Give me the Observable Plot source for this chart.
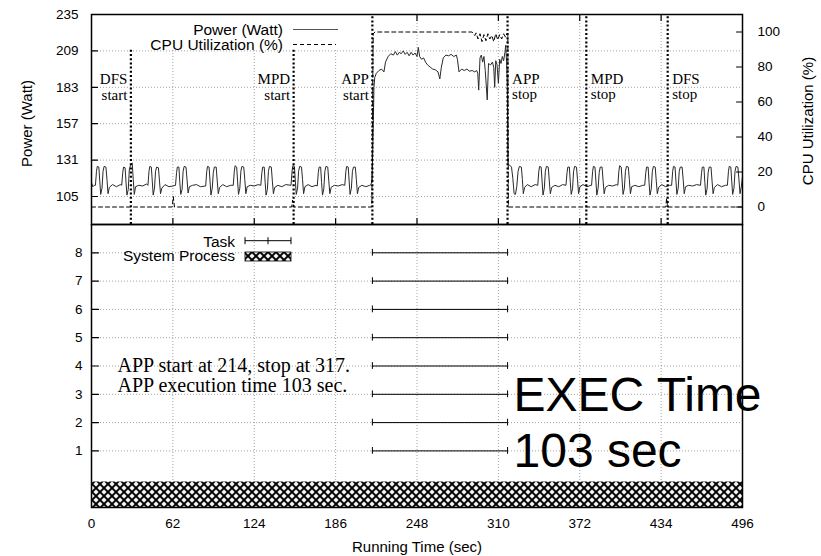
<!DOCTYPE html>
<html><head><meta charset="utf-8">
<script src="https://cdn.jsdelivr.net/npm/d3@7"></script>
<script src="https://cdn.jsdelivr.net/npm/@observablehq/plot@0.6"></script>
<style>
body{margin:0;background:#fff;}
#chart{position:relative;width:821px;height:556px;overflow:hidden;background:#fff;}
#chart svg{position:absolute;left:0;overflow:visible;}
</style></head><body><div id="chart"></div><script>
// ---------- data ----------
const xTicks = [0, 62, 124, 186, 248, 310, 372, 434, 496];
const powerTicks = [105, 131, 157, 183, 209, 235];
const cpuTicks = [0, 20, 40, 60, 80, 100];
const taskTicks = [1, 2, 3, 4, 5, 6, 7, 8];

// [time (s), power (W)]
const powerTrace = [
[0,115],[1,112],[2,113],
[3,113],[3.8,123],[4.4,126.5],[5.6,126],[6.3,116],[7,106.5],[8,111],[8.8,123],[9.6,126.5],[11,126],[11.8,117],[12.6,107],[13.6,111.5],[16,113.5],[19,112],[22,113.5],
[23,113],[23.8,122],[24.4,126],[25.6,125.5],[26.3,115],[27,106],[28,110],[28.8,124],[29.6,127],[31,129],[31.8,117],[32.6,106.5],[33.6,112],[36,113],[39,112.5],[42,114],
[43,113],[43.8,123],[44.4,126.5],[45.6,126],[46.3,116],[47,106],[48,111],[48.8,123],[49.6,126],[51,125.5],[51.8,116],[52.6,107],[53.6,111],[56,113.5],[59,112],[62,112.5],
[64,113],[64.8,122],[65.4,126],[66.6,126],[67.3,115],[68,106.5],[69,110],[69.8,123],[70.6,126.5],[72,126],[72.8,117],[73.6,107.5],[74.6,112],[77,113],[80,113.5],[83,112],
[87,112.5],[87.8,123],[88.4,126.5],[89.6,126],[90.3,116],[91,106],[92,111],[92.8,122],[93.6,126],[95,126],[95.8,116],[96.6,107],[97.6,111.5],[100,113.5],[103,112],[106,113],
[108,113],[108.8,123],[109.4,127],[110.6,126],[111.3,116],[112,106.5],[113,111],[113.8,123],[114.6,126.5],[116,126],[116.8,117],[117.6,107],[118.6,112],[121,113],[124,112.5],[127,113.5],
[129,113],[129.8,122],[130.4,126],[131.6,126],[132.3,115],[133,106],[134,110],[134.8,123],[135.6,126.5],[137,126],[137.8,116],[138.6,107],[139.6,111.5],[142,113],[145,112],[148,113.5],
[152,113],[152.8,123],[153.4,127],[154.6,126.5],[155.3,116],[156,106.5],[157,111],[157.8,123],[158.6,126.5],[160,126],[160.8,117],[161.6,107],[162.6,112],[165,113.5],[168,112],[171,113],
[172,112.5],[172.8,122],[173.4,126],[174.6,126],[175.3,115],[176,106],[177,110.5],[177.8,123],[178.6,126.5],[180,126],[180.8,116],[181.6,107],[182.6,111.5],[185,113],[188,112.5],[191,113.5],
[193,113],[193.8,123],[194.4,126.5],[195.6,126],[196.3,116],[197,106.5],[198,111],[198.8,123],[199.6,126],[201,126],[201.8,117],[202.6,107],[203.6,111.5],[206,113],[209,112],[212,113],
[213,113.5],[213.8,118],[214.5,147],[215.2,183],[215.8,190],[217,193],[219,195],[221,196],[222.8,194],[224,201],[226,205],[228,207],[230,206],[231.5,208.5],[233,206],[234.5,208],[236,207],[237.5,209],[239,206.5],[240.5,208],[242,205.5],[243.5,208],[245,206],[246.5,207.5],[248,205],[249,211.5],[250,205],[251.5,203],[253,204],[254.5,201],[256,199],[258,197.5],[260,196],[262,195.5],[264,194],[265.4,189],[266.5,197],[268,204],[270,206],[272,205.5],[274,206.5],[276,205],[278,206],[278.8,203],[280,194],[282,196],[284,195],[286,196],[288,194.5],[290,195],[292,194],[293.5,195],[294.3,193],[295,181],[296,204],[297,206],[298,201],[299,205],[300,195],[301.5,174],[302.5,200],[304,199],[305.5,201],[306.5,197],[307.2,183],[308,202],[309,199],[310,186],[311,203],[312,200],[313,205],[314,202],[315,208],[315.6,213],[316.3,200],[316.8,183],
[317.3,128],[318.5,127.5],[320,126],[321,118],[322,107],[323,106.5],[324,112],[325,123],[326,126.5],[327.5,126],[328.3,117],[329,107],[330,111.5],[332,113.5],[335,112],[338,113.5],
[340,113],[340.8,123],[341.4,126.5],[342.6,126],[343.3,116],[344,106],[345,111],[345.8,123],[346.6,126.5],[348,126],[348.8,116],[349.6,107],[350.6,111.5],[353,113],[356,112],[359,113.5],
[361.5,113],[362.3,122],[362.9,126],[364.1,126],[364.8,115],[365.5,106.5],[366.5,110.5],[367.3,123],[368.1,126.5],[369.5,126],[370.3,117],[371.1,107],[372.1,112],[374.5,113.5],[377.5,112],[380.5,113],
[381,113],[381.8,123],[382.4,126.5],[383.6,126],[384.3,116],[385,106],[386,111],[386.8,122],[387.6,126],[389,126],[389.8,116],[390.6,107],[391.6,111.5],[394,113],[397,112.5],[400,113.5],
[401,113],[401.8,123],[402.4,127],[403.6,126],[404.3,116],[405,106.5],[406,111],[406.8,123],[407.6,126.5],[409,126],[409.8,117],[410.6,107],[411.6,112],[414,113],[417,112],[420,113],
[421.5,113],[422.3,122],[422.9,126],[424.1,126],[424.8,115],[425.5,106],[426.5,110.5],[427.3,123],[428.1,126.5],[429.5,126],[430.3,116],[431.1,107],[432.1,111.5],[434.5,113.5],[437.5,112],[440.5,113],
[442,113],[442.8,123],[443.4,126.5],[444.6,126],[445.3,116],[446,106.5],[447,111],[447.8,123],[448.6,126],[450,126],[450.8,117],[451.6,107],[452.6,112],[455,113],[458,112.5],[461,113.5],
[464,113],[464.8,122],[465.4,126],[466.6,126],[467.3,115],[468,106],[469,110.5],[469.8,122],[470.6,126],[472,126],[472.8,116],[473.6,107],[474.6,111.5],[477,113.5],[480,112],[483,113],
[484.5,113],[485.3,123],[485.9,126.5],[487.1,126],[487.8,116],[488.5,106.5],[489.5,111],[490.3,123],[491.1,126.5],[492.5,126],[493.3,117],[494.1,107],[495.1,112],[496,119]
];

// [time (s), CPU utilization (%)]
const cpuTrace = [
[0,0],[61.5,0],[62.3,6],[63.2,0],[152.5,0],[153.2,4],[154,0],[213.6,0],[214.6,99],[216,100],[240,100],[260,100],[290,100],
[292,98],[293,99.5],[294.5,96],[296,99],[297.5,94.5],[299,98.5],[300.5,95],[302,99],[303.5,96],[305,98],[306.5,94.5],[308,99],
[309.5,95.5],[311,98.5],[312.5,96],[314,99],[315.5,97],[316.5,99],[317.2,98],[317.6,0],[437.5,0],[438.2,5],[439,0],[496,0]
];

const events = [
  {t: 30, name: "DFS", kind: "start"},
  {t: 154, name: "MPD", kind: "start"},
  {t: 214, name: "APP", kind: "start"},
  {t: 317, name: "APP", kind: "stop"},
  {t: 377, name: "MPD", kind: "stop"},
  {t: 439, name: "DFS", kind: "stop"}
];

const tasks = [1, 2, 3, 4, 5, 6, 7, 8];
const appStart = 214, appStop = 317;
const systemProcess = [{start: 0, end: 496, row: -0.55}];
const annotation = "APP start at 214, stop at 317.\nAPP execution time 103 sec.";
const execNote = "EXEC Time\n103 sec";

// ---------- drawing ----------
const SANS = "'Liberation Sans', Arial, Helvetica, sans-serif";
const SERIF = "'Liberation Serif', 'Times New Roman', serif";
const W = 821;
const gridStyle = {stroke: "#8a8a8a", strokeOpacity: 1, strokeWidth: 0.8, strokeDasharray: "1,2"};
const tickShape = {draw(ctx, l) { ctx.moveTo(0, 0); ctx.lineTo(0, -l); }};
const tickStyle = {length: 6, anchor: "start", shape: tickShape, stroke: "black", strokeWidth: 1.2};
const baseStyle = {fontFamily: SANS, fontSize: "13.5px", background: "transparent", overflow: "visible", color: "black"};

const powerData = powerTrace.map(([t, w]) => ({t, w}));
const cpuData = cpuTrace.map(([t, u]) => ({t, u}));
const taskData = tasks.map(task => ({task, start: appStart, end: appStop}));

const topPlot = Plot.plot({
  width: W, height: 232, marginTop: 14, marginBottom: 8, marginLeft: 91, marginRight: 79,
  style: baseStyle,
  x: {domain: [0, 496], axis: null},
  y: {domain: [85, 235], axis: null},
  marks: [
    Plot.gridX({ticks: xTicks.slice(1, -1), ...gridStyle}),
    Plot.gridY({ticks: powerTicks.slice(0, -1), ...gridStyle}),
    Plot.line(powerData, {x: "t", y: "w", stroke: "#2a2a2a", strokeWidth: 1}),
    Plot.ruleX(events, {x: "t", y1: 85, y2: 235, stroke: "black", strokeWidth: 2.2, strokeDasharray: "2,2.2"}),
    Plot.text(events.filter(e => e.kind === "start"), {x: "t", frameAnchor: "top", text: d => d.name + "\n" + d.kind,
      textAnchor: "end", lineAnchor: "bottom", dx: -3.5, dy: 85, fontFamily: SERIF, fontSize: 15, lineHeight: 1.04}),
    Plot.text(events.filter(e => e.kind === "stop"), {x: "t", frameAnchor: "top", text: d => d.name + "\n" + d.kind,
      textAnchor: "start", lineAnchor: "bottom", dx: 4.5, dy: 84.5, fontFamily: SERIF, fontSize: 15, lineHeight: 1.0}),
    Plot.axisY(powerTicks, {anchor: "left", tickSize: 0, tickPadding: 13, label: null, fontSize: 13.5}),
    Plot.vector(powerTicks, {y: d => d, frameAnchor: "left", rotate: 90, ...tickStyle}),
    Plot.vector(xTicks.slice(1, -1), {x: d => d, frameAnchor: "bottom", rotate: 0, ...tickStyle}),
    Plot.vector(xTicks.slice(1, -1), {x: d => d, frameAnchor: "top", rotate: 180, ...tickStyle}),
    Plot.text(["Power (Watt)"], {frameAnchor: "left", textAnchor: "middle", dx: -64.5, dy: 4, rotate: -90, fontSize: 15}),
    Plot.frame({stroke: "black", strokeWidth: 1.5})
  ]
});

const cpuPlot = Plot.plot({
  width: W, height: 232, marginTop: 14, marginBottom: 8, marginLeft: 91, marginRight: 79,
  style: baseStyle,
  x: {domain: [0, 496], axis: null},
  y: {domain: [-10, 110], axis: null},
  marks: [
    Plot.line(cpuData, {x: "t", y: "u", stroke: "black", strokeWidth: 1, strokeDasharray: "4,3"}),
    Plot.axisY(cpuTicks, {anchor: "right", tickSize: 0, tickPadding: 15, label: null, fontSize: 13.5}),
    Plot.vector(cpuTicks, {y: d => d, frameAnchor: "right", rotate: -90, ...tickStyle}),
    Plot.text(["CPU Utilization (%)"], {frameAnchor: "right", textAnchor: "middle", dx: 65.5, dy: 1.5, rotate: -90, fontSize: 15})
  ]
});

const bottomPlot = Plot.plot({
  width: W, height: 340, marginTop: 8, marginBottom: 49, marginLeft: 91, marginRight: 79,
  style: baseStyle,
  x: {domain: [0, 496], axis: null},
  y: {domain: [-1, 9], axis: null},
  marks: [
    Plot.gridX({ticks: xTicks.slice(1, -1), ...gridStyle}),
    Plot.gridY({ticks: taskTicks, ...gridStyle}),
    Plot.rect(systemProcess, {x1: "start", x2: "end", y1: d => d.row - 0.45, y2: d => d.row + 0.45, fill: "url(#xhatch)"}),
    Plot.ruleY(taskData, {x1: "start", x2: "end", y: "task", stroke: "black", strokeWidth: 1}),
    Plot.ruleX(taskData, {x: "start", y1: d => d.task - 0.12, y2: d => d.task + 0.12, stroke: "black"}),
    Plot.ruleX(taskData, {x: "end", y1: d => d.task - 0.12, y2: d => d.task + 0.12, stroke: "black"}),
    Plot.axisY(taskTicks, {anchor: "left", tickSize: 0, tickPadding: 9, label: null, fontSize: 13.5}),
    Plot.vector(taskTicks, {y: d => d, frameAnchor: "left", rotate: 90, ...tickStyle, length: 7}),
    Plot.axisX(xTicks, {anchor: "bottom", tickSize: 0, tickPadding: 11, label: null, fontSize: 13.5}),
    Plot.text(["Running Time (sec)"], {frameAnchor: "bottom", dy: 44, lineAnchor: "bottom", fontSize: 15}),
    Plot.text([annotation], {frameAnchor: "top-left", dx: 26, dy: 133, lineAnchor: "top", textAnchor: "start",
      fontFamily: SERIF, fontSize: 20, lineHeight: 1}),
    Plot.text([execNote], {frameAnchor: "top-left", dx: 422, dy: 147, lineAnchor: "top", textAnchor: "start",
      fontFamily: SANS, fontSize: 48, lineHeight: 1.1667}),
    Plot.frame({stroke: "black", strokeWidth: 1.5})
  ]
});

// key of the upper panel (opaque box, like gnuplot)
{
  const svg = d3.select(topPlot);
  const g = svg.append("g").attr("font-family", SANS).attr("font-size", 15.5).attr("fill", "black");
  g.append("rect").attr("x", 92).attr("y", 15).attr("width", 254).attr("height", 34).attr("fill", "white");
  g.append("text").attr("x", 283).attr("y", 34.5).attr("text-anchor", "end").text("Power (Watt)");
  g.append("line").attr("x1", 293).attr("x2", 338).attr("y1", 29.5).attr("y2", 29.5).attr("stroke", "#555").attr("stroke-width", 1.2);
  g.append("text").attr("x", 283).attr("y", 49.5).attr("text-anchor", "end").text("CPU Utilization (%)");
  g.append("line").attr("x1", 293).attr("x2", 336).attr("y1", 44.5).attr("y2", 44.5).attr("stroke", "black").attr("stroke-dasharray", "4,3");
  svg.select("[aria-label=frame]").raise();
}
// hatch pattern and key of the lower panel
{
  const svg = d3.select(bottomPlot);
  const defs = svg.insert("defs", ":first-child");
  const p = defs.append("pattern").attr("id", "xhatch").attr("patternUnits", "userSpaceOnUse")
    .attr("width", 5.657).attr("height", 5.657).attr("patternTransform", "rotate(45)");
  p.append("rect").attr("width", 5.657).attr("height", 5.657).attr("fill", "black");
  p.append("rect").attr("x", 1.05).attr("y", 1.05).attr("width", 3.56).attr("height", 3.56).attr("fill", "white");
  const oy = -216;
  const g = svg.append("g").attr("font-family", SANS).attr("font-size", 15.5).attr("fill", "black");
  g.append("text").attr("x", 235).attr("y", 246.5 + oy).attr("text-anchor", "end").text("Task");
  g.append("path").attr("d", `M245,${240.7 + oy}H291M245,${237.2 + oy}v7M268,${237.2 + oy}v7M291,${237.2 + oy}v7`)
    .attr("stroke", "black").attr("fill", "none");
  g.append("text").attr("x", 235).attr("y", 260.5 + oy).attr("text-anchor", "end").text("System Process");
  g.append("rect").attr("x", 245).attr("y", 252 + oy).attr("width", 46).attr("height", 9)
    .attr("fill", "url(#xhatch)").attr("stroke", "black").attr("stroke-width", 0.8);
}

const chart = document.getElementById("chart");
topPlot.style.top = "0px";
cpuPlot.style.top = "0px";
bottomPlot.style.top = "216px";
chart.append(topPlot, cpuPlot, bottomPlot);
</script></body></html>
